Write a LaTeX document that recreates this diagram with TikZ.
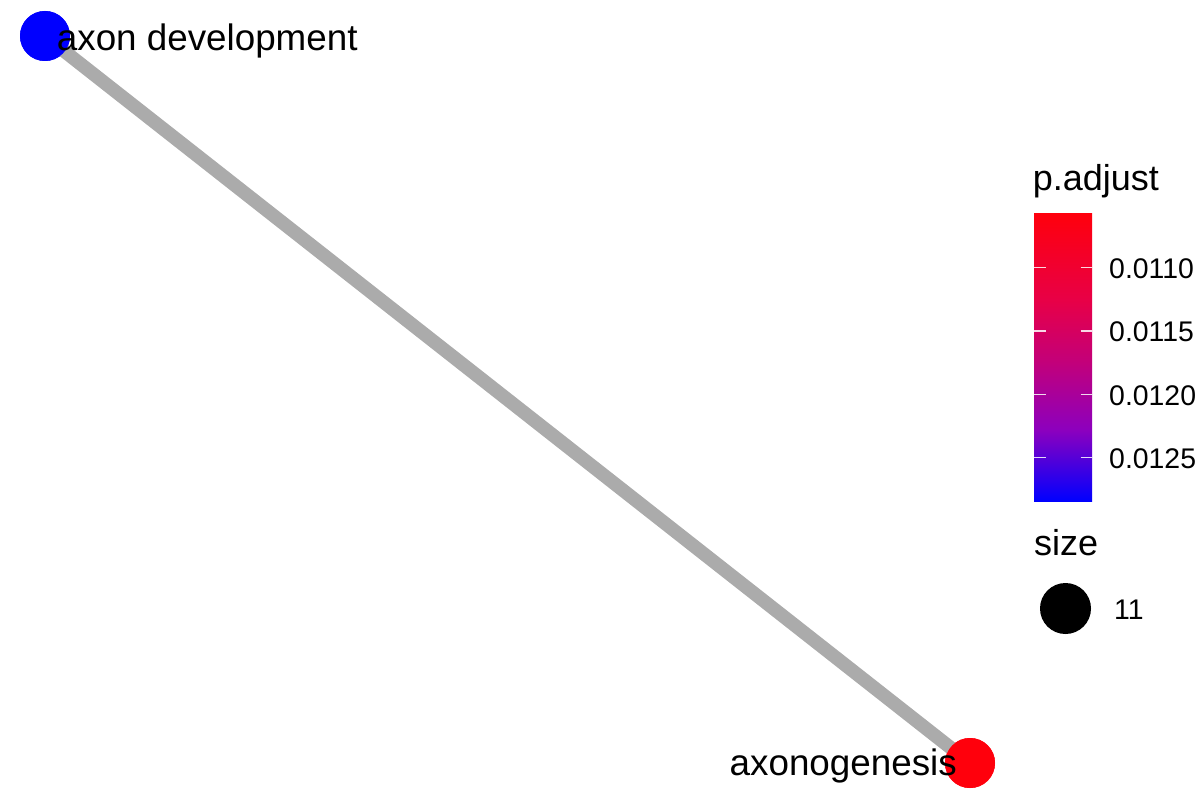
\documentclass[tikz,border=0pt]{standalone}
\usepackage{fontspec}
\setmainfont{Liberation Sans}
\definecolor{nodeblue}{RGB}{0,0,255}
\definecolor{nodered}{RGB}{255,0,12}
\definecolor{edgegray}{RGB}{171,171,171}
\definecolor{cbA}{RGB}{0,0,255}
\definecolor{cbB}{RGB}{140,0,190}
\definecolor{cbC}{RGB}{196,0,120}
\definecolor{cbD}{RGB}{232,0,70}
\definecolor{cbE}{RGB}{255,0,12}
\pgfdeclareverticalshading{pbar}{100bp}{color(0bp)=(cbA); color(25bp)=(cbA); color(37.3bp)=(cbB); color(49.5bp)=(cbC); color(60bp)=(cbD); color(75bp)=(cbE); color(100bp)=(cbE)}
\tikzset{
  gnode/.style={circle, inner sep=0pt, minimum size=50pt, draw=none},
  glabel/.style={inner sep=0pt, anchor=base west, font=\fontsize{36.8}{40}\selectfont},
  ltitle/.style={inner sep=0pt, anchor=base west, font=\fontsize{36}{40}\selectfont},
  ltext/.style={inner sep=0pt, anchor=base west, font=\fontsize{28.4}{32}\selectfont},
  edge/.style={draw=edgegray, line width=13.5pt},
  tickmark/.style={draw=white, draw opacity=0.85, line width=1.5pt}
}
\begin{document}
\begin{tikzpicture}[x=1pt,y=-1pt]
\useasboundingbox (0,0) rectangle (1200,800);
% nodes
\node[gnode, fill=nodeblue] (n1) at (45,36) {};
\node[gnode, fill=nodered] (n2) at (970,763) {};
% edge (drawn, then nodes redrawn on top)
\draw[edge] (n1.center) -- (n2.center);
\fill[nodeblue] (n1.center) circle[radius=25];
\fill[nodered] (n2.center) circle[radius=25];
% labels
\node[glabel] (l1) at (56.7,51) {axon development};
\node[glabel] (l2) at (729.5,775) {axonogenesis};
% colour legend
\node[ltitle] (t1) at (1032.6,190) {p.adjust};
\shade[shading=pbar] (1034,213) rectangle (1092,501);
\foreach \y/\lab in {267.7/0.0110, 331/0.0115, 394.3/0.0120, 457.7/0.0125}{
  \draw[tickmark] (1034,\y) -- (1045.5,\y);
  \draw[tickmark] (1080.5,\y) -- (1092,\y);
  \node[ltext] at (1109,\y+10.8) {\lab};
}
% size legend
\node[ltitle] (t2) at (1034,555) {size};
\node[gnode, fill=black, minimum size=51pt] (k1) at (1065.5,608.5) {};
\node[ltext] (k1l) at (1114,619.3) {11};
\end{tikzpicture}
\end{document}
